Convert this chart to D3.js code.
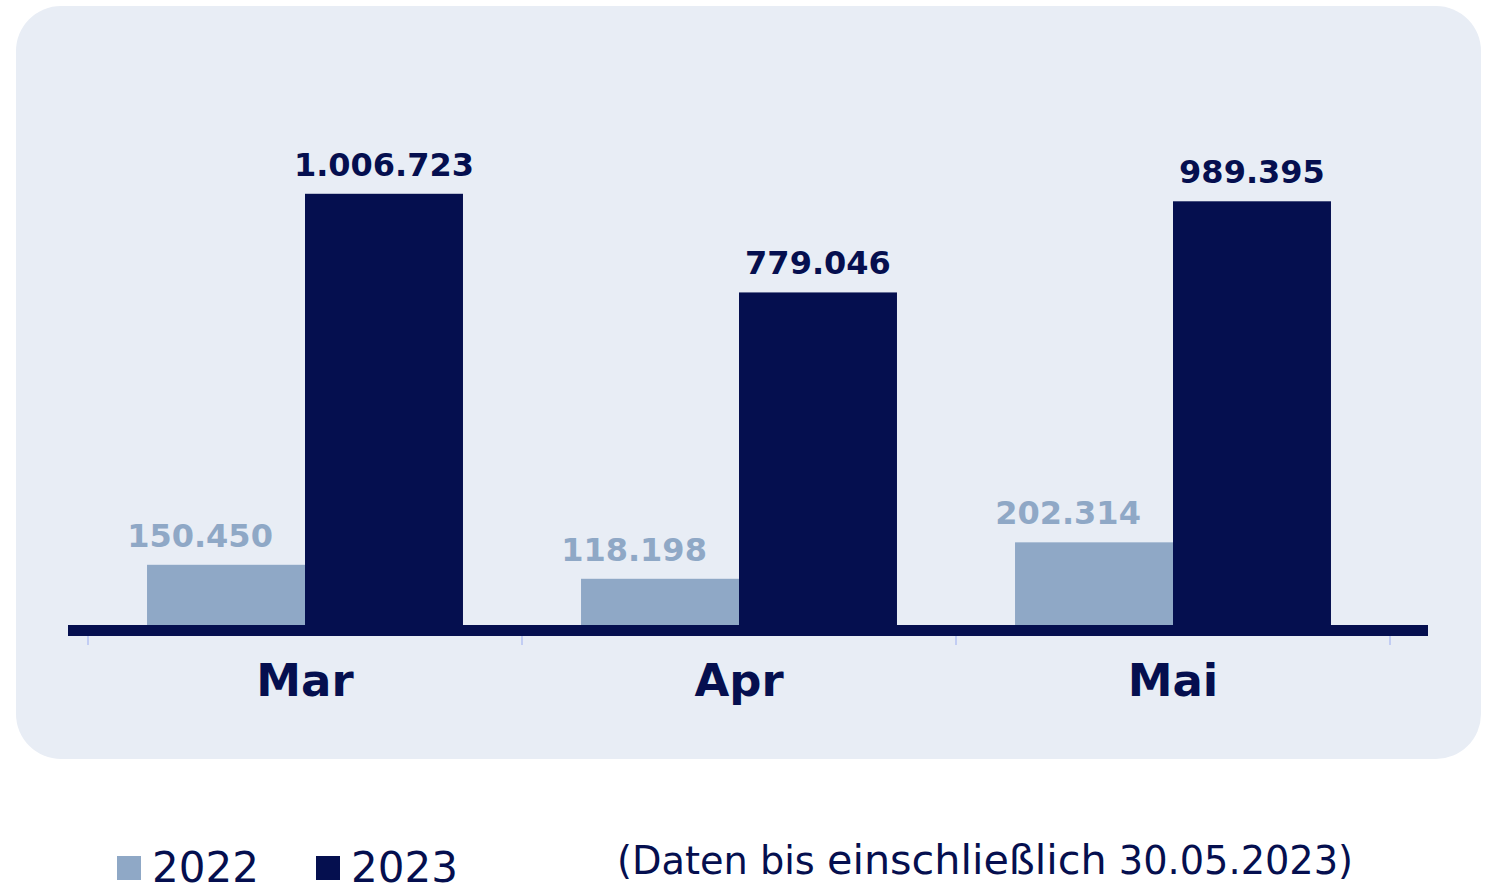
<!DOCTYPE html>
<html>
<head>
<meta charset="utf-8">
<script src="https://cdn.jsdelivr.net/npm/d3@7"></script>
<style>
  body { margin: 0; background: #ffffff; }
  svg { display: block; font-family: "DejaVu Sans", Verdana, sans-serif; }
</style>
</head>
<body>
<script>
// chart data
const months = ["Mar", "Apr", "Mai"];
const years = ["2022", "2023"];
const values2022 = [150450, 118198, 202314];
const values2023 = [1006723, 779046, 989395];
const labels2022 = ["150.450", "118.198", "202.314"];
const labels2023 = ["1.006.723", "779.046", "989.395"];

const width = 1486, height = 884;
const navy = "#050f4f";
const light = "#8fa8c6";

const svg = d3.select("body").append("svg")
    .attr("width", width)
    .attr("height", height);

// rounded background panel
svg.append("rect")
    .attr("x", 16).attr("y", 6)
    .attr("width", 1465).attr("height", 753)
    .attr("rx", 45).attr("ry", 45)
    .attr("fill", "#e8edf5");

const x = d3.scaleBand()
    .domain(months)
    .range([88, 1390])
    .paddingInner(0.272)
    .paddingOuter(0.136);

const xSub = d3.scaleBand()
    .domain(years)
    .range([0, x.bandwidth()]);

const y = d3.scaleLinear()
    .domain([0, 1100000])
    .range([630, 630 - 1100000 * 4.333e-4]);

const rows = months.map((m, i) => ({
    month: m,
    bars: [
        { year: "2022", value: values2022[i], label: labels2022[i], color: light, shift: -26 },
        { year: "2023", value: values2023[i], label: labels2023[i], color: navy, shift: 0 }
    ]
}));

const groups = svg.append("g").selectAll("g")
    .data(rows)
    .join("g")
    .attr("transform", d => `translate(${x(d.month)},0)`);

groups.selectAll("rect")
    .data(d => d.bars)
    .join("rect")
    .attr("x", d => xSub(d.year))
    .attr("y", d => y(d.value))
    .attr("width", xSub.bandwidth())
    .attr("height", d => y(0) - y(d.value))
    .attr("fill", d => d.color);

// the 2022 labels sit a little left of their bars, as in the original
groups.selectAll("text.val")
    .data(d => d.bars)
    .join("text")
    .attr("class", "val")
    .attr("x", d => xSub(d.year) + xSub.bandwidth() / 2 + d.shift)
    .attr("y", d => y(d.value) - 18)
    .attr("text-anchor", "middle")
    .attr("font-weight", "bold")
    .attr("font-size", 32)
    .attr("fill", d => d.color)
    .text(d => d.label);

// x axis: ticks at band boundaries
const tickPos = months.map(m => x(m) - x.step() * x.paddingOuter())
    .concat([x.range()[1]]);
svg.append("g").selectAll("line")
    .data(tickPos)
    .join("line")
    .attr("x1", d => d).attr("x2", d => d)
    .attr("y1", 634).attr("y2", 645)
    .attr("stroke", "#c2cdf3")
    .attr("stroke-width", 2);

svg.append("rect")
    .attr("x", 68).attr("y", 625)
    .attr("width", 1360).attr("height", 11)
    .attr("fill", navy);

svg.append("g").selectAll("text")
    .data(months)
    .join("text")
    .attr("x", d => x(d) + x.bandwidth() / 2)
    .attr("y", 696)
    .attr("text-anchor", "middle")
    .attr("font-weight", "bold")
    .attr("font-size", 45)
    .attr("fill", navy)
    .text(d => d);

// legend
const legend = svg.append("g");
const legendItems = [
    { name: years[0], color: light, x: 117 },
    { name: years[1], color: navy, x: 316 }
];
legend.selectAll("rect")
    .data(legendItems)
    .join("rect")
    .attr("x", d => d.x).attr("y", 856)
    .attr("width", 24).attr("height", 24)
    .attr("fill", d => d.color);
legend.selectAll("text")
    .data(legendItems)
    .join("text")
    .attr("x", d => d.x + 35)
    .attr("y", 882)
    .attr("font-size", 42)
    .attr("fill", navy)
    .text(d => d.name);

const note = svg.append("text")
    .attr("x", 617)
    .attr("y", 874)
    .attr("font-size", 38.3)
    .attr("fill", navy);
note.append("tspan").text("(Daten bis ");
note.append("tspan").attr("font-size", 41.3).text("einschließlich");
note.append("tspan").text(" 30.05.2023)");
</script>
</body>
</html>
